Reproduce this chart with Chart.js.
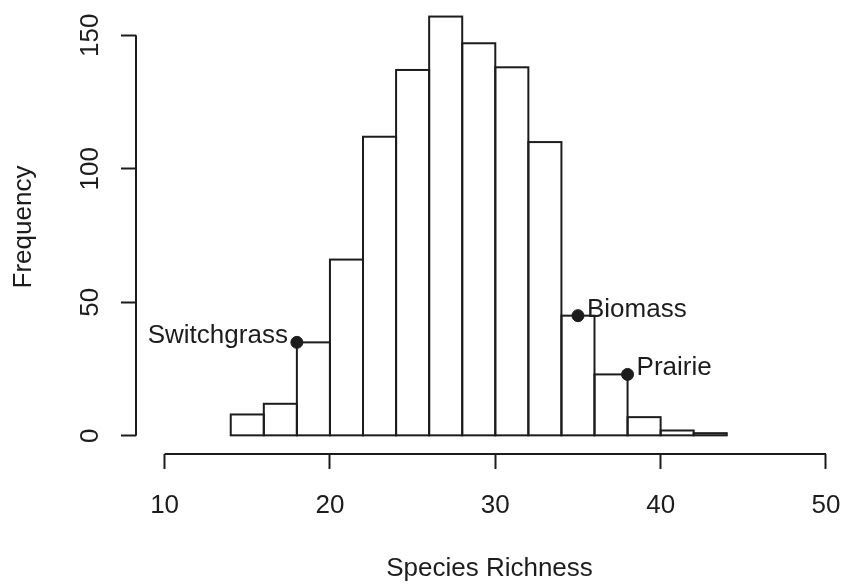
<!DOCTYPE html>
<html>
<head>
<meta charset="utf-8">
<script src="https://cdn.jsdelivr.net/npm/chart.js@4/dist/chart.umd.min.js"></script>
<style>
  html, body { margin: 0; padding: 0; background: #ffffff; }
  #wrap { width: 843px; height: 584px; position: relative; }
</style>
</head>
<body>
<div id="wrap"><canvas id="hist" width="843" height="584"></canvas></div>
<script>
// Histogram of species richness, with three reference sites marked.
const binEdges = [14, 16, 18, 20, 22, 24, 26, 28, 30, 32, 34, 36, 38, 40, 42, 44];
const binCounts = [8, 12, 35, 66, 112, 137, 157, 147, 138, 110, 45, 23, 7, 2, 1];

const siteNames = ['Switchgrass', 'Biomass', 'Prairie'];
const siteRichness = [18, 35, 38];
const siteFrequency = [35, 45, 23];
const siteLabelSide = ['left', 'right', 'right'];

const xTicks = [10, 20, 30, 40, 50];
const yTicks = [0, 50, 100, 150];

const xTitle = 'Species Richness';
const yTitle = 'Frequency';

const INK = '#1c1c1c';
const FONT = '"Liberation Sans", Arial, Helvetica, sans-serif';
const FONT_SIZE = 26;

const barData = binCounts.map((c, i) => ({ x: (binEdges[i] + binEdges[i + 1]) / 2, y: c }));
const siteData = siteRichness.map((r, i) => ({ x: r, y: siteFrequency[i] }));

// Outline each histogram rectangle with a single shared-edge stroke, and
// draw the R-style axis lines that only span the labelled tick range.
const histDecor = {
  id: 'histDecor',
  afterDatasetDraw(chart, args) {
    if (args.index !== 1) return;
    const ctx = chart.ctx;
    ctx.save();
    ctx.strokeStyle = INK;
    ctx.lineWidth = 2;
    args.meta.data.forEach(bar => {
      const left = bar.x - bar.width / 2;
      const top = Math.min(bar.y, bar.base);
      const h = Math.abs(bar.base - bar.y);
      ctx.strokeRect(left, top, bar.width, h);
    });
    ctx.restore();
  },
  afterDraw(chart) {
    const ctx = chart.ctx;
    const xs = chart.scales.x, ys = chart.scales.y;
    const area = chart.chartArea;
    ctx.save();
    ctx.strokeStyle = INK;
    ctx.lineWidth = 2;
    ctx.beginPath();
    ctx.moveTo(xs.getPixelForValue(xTicks[0]), area.bottom);
    ctx.lineTo(xs.getPixelForValue(xTicks[xTicks.length - 1]), area.bottom);
    ctx.moveTo(area.left, ys.getPixelForValue(yTicks[0]));
    ctx.lineTo(area.left, ys.getPixelForValue(yTicks[yTicks.length - 1]));
    ctx.stroke();

    // site labels beside their points
    const meta = chart.getDatasetMeta(0);
    ctx.fillStyle = INK;
    ctx.font = FONT_SIZE + 'px ' + FONT;
    ctx.textBaseline = 'alphabetic';
    meta.data.forEach((pt, i) => {
      const side = siteLabelSide[i];
      ctx.textAlign = side === 'left' ? 'right' : 'left';
      const dx = side === 'left' ? -9 : 9;
      ctx.fillText(siteNames[i], pt.x + dx, pt.y + 1);
    });
    ctx.restore();
  }
};

const tickFont = { family: FONT, size: FONT_SIZE };

new Chart(document.getElementById('hist'), {
  type: 'bar',
  data: {
    datasets: [
      {
        type: 'scatter',
        label: 'Sites',
        data: siteData,
        backgroundColor: INK,
        borderColor: INK,
        pointRadius: 6,
        pointHoverRadius: 6,
        order: 0
      },
      {
        type: 'bar',
        label: 'Frequency',
        data: barData,
        backgroundColor: '#ffffff',
        borderWidth: 0,
        barPercentage: 1.0,
        categoryPercentage: 1.0,
        order: 1
      }
    ]
  },
  options: {
    responsive: false,
    animation: false,
    events: [],
    layout: { padding: 0, autoPadding: false },
    plugins: {
      legend: { display: false },
      tooltip: { enabled: false }
    },
    scales: {
      x: {
        type: 'linear',
        min: 8.27,
        max: 51.03,
        offset: false,
        afterBuildTicks: s => { s.ticks = xTicks.map(v => ({ value: v })); },
        afterFit: s => { s.height = 130; s.paddingLeft = 0; s.paddingRight = 0; },
        grid: { display: true, offset: false, drawOnChartArea: false, drawTicks: true, tickLength: 15, tickWidth: 2, tickColor: INK },
        border: { display: false },
        ticks: { font: tickFont, color: INK, padding: 21, maxRotation: 0, minRotation: 0, autoSkip: false },
        title: { display: true, text: xTitle, font: tickFont, color: INK, padding: { top: 0, bottom: 0 } }
      },
      y: {
        type: 'linear',
        min: -6.8,
        max: 163.2,
        afterBuildTicks: s => { s.ticks = yTicks.map(v => ({ value: v })); },
        afterFit: s => { s.width = 136; s.paddingTop = 0; s.paddingBottom = 0; },
        grid: { display: true, drawOnChartArea: false, drawTicks: true, tickLength: 15, tickWidth: 2, tickColor: INK },
        border: { display: false },
        ticks: { font: tickFont, color: INK, padding: 8, minRotation: 90, maxRotation: 90, crossAlign: 'center', autoSkip: false },
        title: { display: true, text: yTitle, font: tickFont, color: INK, padding: { top: 8, bottom: 0 } }
      }
    }
  },
  plugins: [histDecor]
});
</script>
</body>
</html>
